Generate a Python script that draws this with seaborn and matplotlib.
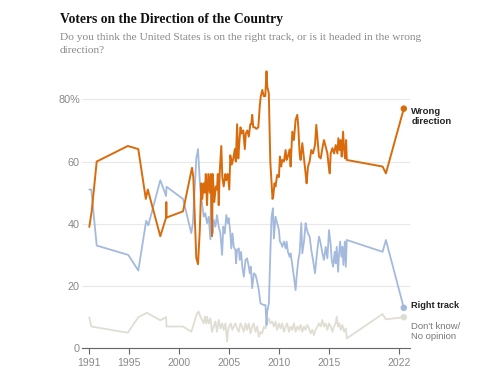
"""
plot.py
=======
Right track / wrong direction polling, 1991-2022, redrawn with seaborn.
Output: out.png (500 x 375)
"""

import matplotlib
matplotlib.use("Agg")

import matplotlib.pyplot as plt
import pandas as pd
import seaborn as sns

# ── Series values (year, percent) ─────────────────────────────────────────────
WRONG_YEAR = [
    1991.0, 1991.24, 1991.74, 1994.85, 1995.9, 1996.65, 1996.85, 1998.1,
    1998.68, 1998.7, 1998.72, 2000.37, 2001.27, 2001.4, 2001.7, 2001.87,
    2002.05, 2002.2, 2002.3, 2002.44, 2002.55, 2002.65, 2002.77, 2002.9,
    2003.05, 2003.15, 2003.27, 2003.35, 2003.5, 2003.65, 2003.77, 2003.85,
    2003.94, 2004.05, 2004.2, 2004.3, 2004.44, 2004.6, 2004.7, 2004.85,
    2005.0, 2005.1, 2005.25, 2005.4, 2005.55, 2005.65, 2005.78, 2005.9,
    2006.0, 2006.12, 2006.25, 2006.4, 2006.55, 2006.65, 2006.8, 2006.95,
    2007.1, 2007.2, 2007.29, 2007.4, 2007.55, 2007.7, 2007.9, 2008.05,
    2008.15, 2008.3, 2008.45, 2008.6, 2008.72, 2008.8, 2008.95, 2009.1,
    2009.32, 2009.39, 2009.52, 2009.62, 2009.79, 2009.96, 2010.06, 2010.19,
    2010.29, 2010.46, 2010.63, 2010.73, 2010.86, 2011.03, 2011.13, 2011.3,
    2011.46, 2011.63, 2011.8, 2011.9, 2012.03, 2012.13, 2012.3, 2012.47,
    2012.63, 2012.73, 2012.87, 2013.03, 2013.2, 2013.37, 2013.57, 2013.7,
    2013.8, 2013.97, 2014.14, 2014.31, 2014.47, 2014.64, 2014.81, 2014.91,
    2015.04, 2015.14, 2015.31, 2015.48, 2015.64, 2015.81, 2015.91, 2016.04,
    2016.14, 2016.24, 2016.38, 2016.48, 2016.58, 2016.68, 2016.75, 2020.33,
    2020.66, 2022.45,
]
WRONG_PCT = [
    39, 44, 60, 65, 64, 48, 51, 36,
    42, 47, 42, 44, 58, 55, 29, 27,
    38, 53, 48, 53, 50, 56, 46, 56,
    50, 56, 36, 56, 47, 52, 51, 56,
    46, 57, 65, 55, 52, 56, 54, 56,
    51, 62, 59, 61, 64, 60, 72, 61,
    66, 71, 69, 70, 64, 69, 70, 68,
    72, 72, 75, 71, 71, 70.5, 71, 78,
    81, 83, 81, 81, 89, 84, 82, 60,
    48, 48.7, 53, 52, 55.7, 55, 61.6, 58.4,
    60.5, 60, 63.7, 60.5, 61.6, 63.9, 58.4, 69.6,
    66.9, 73.4, 75, 71.2, 62.6, 60.5, 65.9, 61,
    56.2, 53, 58.4, 60, 63.7, 62.6, 65.3, 71.8,
    68, 61.6, 61, 64.3, 66.9, 64.8, 62.6, 59.4,
    56.2, 62.6, 64.3, 62.6, 65.3, 62.6, 67.5, 63.7,
    66.9, 61.6, 69.6, 63.7, 61, 66.9, 60.5, 58.4,
    56.2, 77,
]

RIGHT_YEAR = [
    1991.0, 1991.2, 1991.74, 1994.9, 1995.9, 1996.69, 1996.9, 1998.1,
    1998.68, 1998.72, 2000.37, 2001.2, 2001.35, 2001.7, 2001.87,
    2002.1, 2002.27, 2002.44, 2002.6, 2002.77, 2002.94, 2003.11, 2003.2,
    2003.35, 2003.44, 2003.61, 2003.77, 2003.94, 2004.11, 2004.28, 2004.4,
    2004.55, 2004.7, 2004.85, 2004.94, 2005.11, 2005.2, 2005.32, 2005.45,
    2005.61, 2005.68, 2005.78, 2005.95, 2006.05, 2006.18, 2006.3, 2006.45,
    2006.62, 2006.78, 2006.95, 2007.05, 2007.15, 2007.29, 2007.45, 2007.62,
    2007.79, 2007.95, 2008.12, 2008.46, 2008.62, 2008.72, 2008.79, 2008.96,
    2009.06, 2009.22, 2009.36, 2009.46, 2009.62, 2009.79, 2009.96, 2010.06,
    2010.19, 2010.29, 2010.46, 2010.63, 2010.73, 2010.86, 2011.03, 2011.13,
    2011.3, 2011.46, 2011.63, 2011.73, 2011.9, 2012.03, 2012.2, 2012.3,
    2012.47, 2012.63, 2012.73, 2012.87, 2013.03, 2013.2, 2013.37, 2013.57,
    2013.7, 2013.8, 2013.97, 2014.14, 2014.31, 2014.47, 2014.64, 2014.81,
    2014.97, 2015.14, 2015.24, 2015.38, 2015.54, 2015.64, 2015.74, 2015.88,
    2015.98, 2016.08, 2016.21, 2016.31, 2016.41, 2016.55, 2016.65, 2016.75,
    2020.33, 2020.66, 2022.45,
]
RIGHT_PCT = [
    51, 51, 33, 30, 25, 41, 39.5, 54,
    48.9, 51.9, 48, 37, 40, 61, 64,
    51, 46.6, 42.3, 43.4, 40.2, 42.3, 35, 55,
    37, 41.2, 39.1, 42.8, 39.1, 36.9, 30, 39.1,
    36.9, 42.8, 40.2, 41.8, 36.9, 32.1, 36.9, 32.6,
    31.6, 27.3, 31.6, 32.1, 28.4, 31, 26.2, 23,
    28.4, 28.9, 26.2, 24.1, 26.2, 19.3, 24.1, 23.6,
    21.4, 18.7, 14.4, 13.9, 13.9, 7.5, 11.8, 14.4,
    26, 42, 45, 35.3, 42.3, 40.2, 38, 34.3,
    33.7, 32.6, 34.3, 32.1, 34.3, 31, 29.4, 30.5,
    26.8, 23, 18.7, 23, 28.4, 30.5, 40.2, 30.5,
    34.3, 40.2, 38.5, 36.9, 35.9, 31.6, 28.4, 24.1,
    28.4, 31.6, 35.9, 33.7, 30.5, 28.4, 32.6, 28.9,
    38, 33.2, 28.4, 26.2, 31, 27.3, 32.6, 24.6,
    30.5, 34.3, 29.4, 32.6, 26.8, 34.3, 26.2, 34.8,
    31, 34.8, 13,
]

DK_YEAR = [
    1991.0, 1991.2, 1994.85, 1995.9, 1996.75, 1998.1, 1998.68, 1998.72,
    2000.37, 2001.2, 2001.77, 2001.93,
    2002.1, 2002.27, 2002.44, 2002.55, 2002.7, 2002.77, 2002.94, 2003.11,
    2003.27, 2003.44, 2003.61, 2003.77, 2003.94, 2004.11, 2004.28, 2004.44,
    2004.61, 2004.78, 2004.88, 2004.98, 2005.15, 2005.3, 2005.45, 2005.61,
    2005.78, 2005.95, 2006.12, 2006.28, 2006.45, 2006.62, 2006.78, 2006.95,
    2007.12, 2007.29, 2007.45, 2007.62, 2007.79, 2007.95, 2008.12, 2008.29,
    2008.46, 2008.62, 2008.79, 2008.96, 2009.12, 2009.29, 2009.46, 2009.62,
    2009.79, 2009.96, 2010.13, 2010.29, 2010.46, 2010.63, 2010.79, 2010.96,
    2011.13, 2011.3, 2011.46, 2011.63, 2011.8, 2011.96, 2012.13, 2012.3,
    2012.47, 2012.63, 2012.8, 2012.97, 2013.13, 2013.3, 2013.47, 2013.63,
    2013.8, 2013.97, 2014.14, 2014.31, 2014.47, 2014.64, 2014.81, 2014.97,
    2015.14, 2015.31, 2015.48, 2015.64, 2015.74, 2015.88, 2016.01, 2016.14,
    2016.31, 2016.48, 2016.65, 2016.75, 2020.33, 2020.66, 2022.45,
]
DK_PCT = [
    10, 7, 5, 10, 11.4, 9, 10, 7,
    7, 5.3, 11.2, 11.8,
    10.2, 9.1, 8, 10.2, 8, 10.2, 8, 9.6,
    5.3, 7, 8.6, 5.3, 9.1, 6.4, 8, 5.9,
    8, 2.1, 5.9, 7, 8, 5.9, 7, 8,
    6.4, 5.3, 8, 7, 5.3, 8, 5.9, 8,
    4.8, 7, 8, 5.3, 7, 3.7, 5.3, 4.8,
    7, 6.4, 8, 9.6, 8, 8.6, 7, 8.6,
    5.9, 8, 6.4, 8, 5.3, 7, 8, 5.3,
    7, 5.9, 8, 5.3, 7, 5.9, 7.5, 5.3,
    7, 5.9, 7.5, 6.4, 4.8, 5.9, 4.3, 5.9,
    7, 8, 7, 9.1, 7, 8, 5.9, 8,
    7, 5.3, 7, 8, 10.2, 7, 8, 5.9,
    7.5, 5.3, 6.4, 3.2, 11, 9.3, 10,
]

X_TICKS = [1991, 1995, 2000, 2005, 2010, 2015, 2022]
Y_TICKS = [0, 20, 40, 60, 80]
Y_LABELS = ["0", "20", "40", "60", "80%"]

TITLE = "Voters on the Direction of the Country"
SUBTITLE_1 = "Do you think the United States is on the right track, or is it headed in the wrong"
SUBTITLE_2 = "direction?"

# ── Styling ────────────────────────────────────────────────────────────────────
ORANGE = "#d96b0c"
BLUE   = "#a4badd"
GREY   = "#e0ddd3"
TEXT   = "#222222"
MUTED  = "#888888"

# ── Long table for seaborn ─────────────────────────────────────────────────────
df = pd.concat([
    pd.DataFrame({"year": DK_YEAR,    "pct": DK_PCT,    "series": "Don't know"}),
    pd.DataFrame({"year": RIGHT_YEAR, "pct": RIGHT_PCT, "series": "Right track"}),
    pd.DataFrame({"year": WRONG_YEAR, "pct": WRONG_PCT, "series": "Wrong direction"}),
], ignore_index=True)

palette = {"Don't know": GREY, "Right track": BLUE, "Wrong direction": ORANGE}
widths  = {"Don't know": 1.3, "Right track": 1.3, "Wrong direction": 1.4}

sns.set_theme(style="white")
plt.rcParams["font.family"] = ["Liberation Sans", "DejaVu Sans"]

fig = plt.figure(figsize=(5, 3.75), dpi=100)
ax = fig.add_axes([0.164, 0.0712, 0.656, 0.747])

ax.yaxis.grid(True, color="#e8e8e8", linewidth=0.8)
ax.set_axisbelow(True)

for name, part in df.groupby("series", sort=False):
    sns.lineplot(data=part, x="year", y="pct", color=palette[name],
                 linewidth=widths[name], estimator=None, sort=False, ax=ax)
    last = part.iloc[[-1]]
    sns.scatterplot(data=last, x="year", y="pct", color=palette[name],
                    s=22, edgecolor="none", ax=ax, zorder=5)

ax.set_xlim(1990.27, 2023.07)
ax.set_ylim(0, 90)
ax.set_xlabel("")
ax.set_ylabel("")

ax.set_xticks(X_TICKS)
ax.set_xticklabels([str(t) for t in X_TICKS])
ax.set_yticks(Y_TICKS)
ax.set_yticklabels(Y_LABELS)
ax.tick_params(axis="x", colors=MUTED, labelsize=7.5, length=4, width=0.8,
               direction="out", bottom=True, pad=3)
ax.tick_params(axis="x", color="#666666")
ax.tick_params(axis="y", colors=MUTED, labelsize=7.8, length=0, pad=1.5)

for side in ["top", "right", "left"]:
    ax.spines[side].set_visible(False)
ax.spines["bottom"].set_color("#666666")
ax.spines["bottom"].set_linewidth(0.8)

# ── Line labels on the right ───────────────────────────────────────────────────
ax.text(2023.2, 74.5, "Wrong\ndirection", fontsize=6.8, fontweight="bold",
        color=TEXT, ha="left", va="center", linespacing=1.25, clip_on=False)
ax.text(2023.2, 13.9, "Right track", fontsize=6.6, fontweight="bold",
        color=TEXT, ha="left", va="center", clip_on=False)
ax.text(2023.2, 5.4, "Don't know/\nNo opinion", fontsize=6.8,
        color="#777777", ha="left", va="center", linespacing=1.25, clip_on=False)

# ── Title block ────────────────────────────────────────────────────────────────
fig.text(0.12, 0.949, TITLE, family="Liberation Serif", fontweight="bold",
         fontsize=9.8, color="#111111", ha="left", va="center")
fig.text(0.12, 0.901, SUBTITLE_1, family="Liberation Serif", fontsize=8.2,
         color=MUTED, ha="left", va="center")
fig.text(0.12, 0.866, SUBTITLE_2, family="Liberation Serif", fontsize=8.2,
         color=MUTED, ha="left", va="center")

fig.savefig("out.png", dpi=100)
